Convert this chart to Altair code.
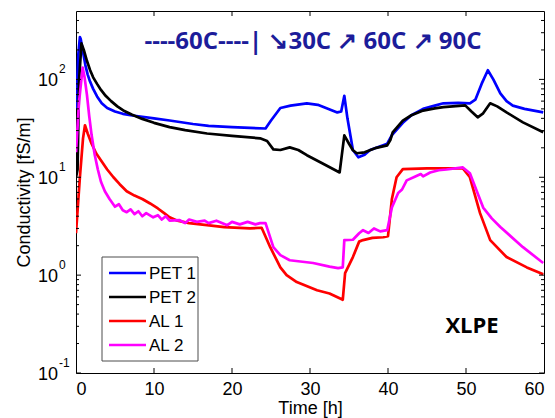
import altair as alt
import pandas as pd

# ---------------- data ----------------
pet1_t = [0, 0.3, 0.5, 0.6, 0.9, 1.2, 1.5, 1.8, 2.2, 2.7, 3.3, 4, 5, 6, 7, 8.5, 10,
          12, 15, 17, 20, 24.3, 25, 26.2, 27.5, 29.6, 31, 33.5, 34.0, 34.4, 34.8,
          35.5, 36.2, 37, 37.7, 38.5, 39.9, 40.5, 41.9, 43, 44.5, 46, 47.1, 49,
          50.5, 51.2, 52, 52.8, 53.5, 54.4, 55.2, 56, 57.5, 59.9]
pet1_v = [50, 180, 270, 260, 190, 140, 112, 95, 80, 67, 57, 51, 47, 44.5, 43, 41.5, 40,
          38, 35, 33.5, 32.5, 31.5, 38, 51, 54, 57, 55, 46, 47, 68, 40,
          19, 16, 17, 19, 20, 22, 27, 36, 43, 50, 54, 57, 57.5,
          57, 62, 90, 124, 100, 72, 60, 54, 50, 46]

pet2_t = [0, 0.2, 0.4, 0.7, 1.0, 1.4, 1.8, 2.2, 2.7, 3.2, 3.8, 4.5, 5.3, 6.2, 7.2,
          8.5, 10, 12, 14, 16.8, 20, 23.6, 24.5, 25.3, 26.2, 27.4, 28.5, 29.6, 31.5,
          33.8, 34.4, 35, 35.5, 36, 37, 38.5, 39.9, 40.3, 40.6, 41.9, 43, 44.5, 46,
          47.1, 49.9, 50.7, 51.5, 52.2, 53.1, 54, 55.2, 57.3, 59.9]
pet2_v = [10, 12, 100, 233, 200, 155, 125, 105, 90, 78, 68, 60, 53, 47.5, 43.5,
          39.5, 36, 32.5, 30.3, 28, 26.5, 25, 23.5, 19.3, 19, 20.2, 19, 16.8, 14,
          11.2, 26.8, 22, 18.9, 17.6, 18, 20, 21.2, 24, 28.8, 38, 43, 48, 50.5,
          52, 54.3, 47, 41, 45, 57, 53, 46, 36.4, 28.8]

al1_t = [0, 0.5, 0.9, 1.15, 1.5, 2, 2.6, 3.3, 4, 4.8, 5.6, 6.5, 7.5, 8.5, 9.5, 10.5,
         11.3, 12, 13, 14.5, 16.8, 19, 22.3, 23.8, 24.9, 26.2, 27, 28.3, 30.9, 32.5,
         33.8, 34.2, 34.5, 35.5, 36.3, 36.8, 38, 39.4, 40, 40.5, 41.1, 41.9, 45,
         49.6, 50.5, 51.8, 53.1, 55.2, 57.8, 59.9]
al1_v = [2.68, 10, 25, 34, 28, 22, 17.5, 14.5, 12, 10, 8.5, 7.2, 6.5, 6, 5.4, 4.8,
         4.3, 3.9, 3.6, 3.4, 3.24, 3.1, 3.0, 3.05, 1.93, 1.2, 1.0, 0.85, 0.70, 0.65,
         0.58, 0.56, 1.05, 1.53, 2.2, 2.28, 2.4, 2.44, 2.5, 6, 10, 12.1, 12.3,
         12.3, 10, 4.3, 2.28, 1.53, 1.2, 1.02]

al2_t = [0, 0.4, 0.85, 1.1, 1.4, 1.7, 2.0, 2.4, 2.8, 3.2, 3.7, 4.3, 5, 5.5, 6, 6.5,
         7, 7.5, 8, 8.5, 9, 9.9, 10.5, 11, 11.5, 12, 13.3, 14, 14.5, 15.5, 16.5, 17,
         18, 19.4, 20, 21, 22, 23, 23.6, 24.3, 25.3, 26.2, 27.4, 30.4, 32.5, 33.6,
         34.2, 34.4, 35.5, 36.3, 36.8, 37.5, 38.2, 39, 39.9, 40.5, 41.3, 41.8, 42.4,
         43.5, 44.2, 44.5, 45.4, 46.5, 47.5, 49.6, 50.5, 51.3, 52.2, 53.3, 54.4,
         57.3, 59.9]
al2_v = [18, 60, 132, 105, 70, 42, 27, 17, 12, 9, 7.2, 6, 5.0, 5.3, 4.6, 4.4,
         4.7, 4.2, 4.5, 4.0, 4.3, 3.9, 4.1, 3.7, 4.0, 3.6, 3.64, 3.4, 3.7, 3.5, 3.6, 3.4,
         3.6, 3.24, 3.5, 3.3, 3.5, 3.3, 3.4, 3.4, 1.93, 1.6, 1.42, 1.33, 1.22, 1.18,
         1.2, 2.28, 2.3, 2.68, 2.88, 2.7, 3.0, 2.8, 2.88, 4.9, 6.9, 7.5, 9.3,
         10.2, 10.8, 10.2, 11.2, 11.8, 12.0, 12.6, 11, 7.5, 4.9, 3.8, 3.1,
         1.93, 1.33]

series_names = ["PET 1", "PET 2", "AL 1", "AL 2"]
series_colors = ["#0000ff", "#000000", "#ff0000", "#ff00ff"]
series_t = [pet1_t, pet2_t, al1_t, al2_t]
series_v = [pet1_v, pet2_v, al1_v, al2_v]

x_ticks = [0, 10, 20, 30, 40, 50, 60]
y_major = [0.1, 1, 10, 100]
y_exp = ["-1", "0", "1", "2"]
y_minor = [m * d for d in [0.1, 1, 10] for m in range(2, 10)] + [200, 300, 400]

annotation = "----60C----| \u219830C \u2197 60C \u2197 90C"
material = "XLPE"

# ---------------- chart ----------------
W, H = 468, 362
FONT = "Liberation Sans"
xs = alt.Scale(domain=[0, 60], nice=False, zero=False)
ys = alt.Scale(type="log", domain=[0.1, 500], nice=False)

XAX = alt.Axis(values=x_ticks, ticks=False, domain=False, grid=False,
               labelFont=FONT, labelFontSize=18, labelColor="black",
               labelPadding=7, title="Time [h]", titleFont=FONT,
               titleFontSize=18, titleFontWeight="normal", titleColor="black",
               titleY=35, titleBaseline="middle")
YAX = alt.Axis(values=y_major, labels=False, ticks=False, domain=False, grid=False,
               title="Conductivity [fS/m]", titleFont=FONT, titleFontSize=18,
               titleFontWeight="normal", titleColor="black",
               titleX=-52, titleY=H / 2, titleAlign="center",
               titleBaseline="middle", titleAngle=270)


def X(field):
    return alt.X(field, scale=xs, axis=XAX)


def Y(field):
    return alt.Y(field, scale=ys, axis=YAX)


layers = []
for name, col, t, v in zip(series_names, series_colors, series_t, series_v):
    df = pd.DataFrame({"t": t, "v": v})
    layers.append(
        alt.Chart(df).mark_line(color=col, strokeWidth=2.7, clip=True,
                                strokeJoin="round").encode(x=X("t:Q"), y=Y("v:Q"))
    )

# ticks (inside, on all four sides)
xt = pd.DataFrame({"t": x_ticks[1:-1]})
for y0, y1 in [(H, H - 5), (0, 5)]:
    layers.append(alt.Chart(xt).mark_rule(color="black", strokeWidth=1).encode(
        x=X("t:Q"), y=alt.value(y0), y2=alt.value(y1)))
ymaj = pd.DataFrame({"v": y_major, "base": ["10"] * 4, "e": y_exp})
ymin = pd.DataFrame({"v": y_minor})
for d, ln in [(ymaj, 5), (ymin, 3)]:
    for x0, x1 in [(0, ln), (W, W - ln)]:
        layers.append(alt.Chart(d).mark_rule(color="black", strokeWidth=1).encode(
            y=Y("v:Q"), x=alt.value(x0), x2=alt.value(x1)))

# y tick labels 10^k
layers.append(alt.Chart(ymaj).mark_text(align="right", baseline="middle", font=FONT,
                                         fontSize=18, dy=1.5, color="black").encode(
    y=Y("v:Q"), x=alt.value(-18), text="base:N"))
layers.append(alt.Chart(ymaj).mark_text(align="left", baseline="middle", font=FONT,
                                         fontSize=12, dy=-10, color="black").encode(
    y=Y("v:Q"), x=alt.value(-17), text="e:N"))

# annotation texts
one = pd.DataFrame({"a": [annotation], "m": [material]})
layers.append(alt.Chart(one).mark_text(font="Open Sans", fontWeight="bold", fontSize=24,
                                        color="#1c1c9a", align="center", baseline="middle").encode(
    x=alt.value(237), y=alt.value(31), text="a:N"))
layers.append(alt.Chart(one).mark_text(font="Open Sans", fontWeight="bold", fontSize=22,
                                        color="black", align="center", baseline="middle").encode(
    x=alt.value(396), y=alt.value(315), text="m:N"))

# legend box
layers.append(alt.Chart(one).mark_rect(fill="white", stroke="#4d4d4d", strokeWidth=1).encode(
    x=alt.value(26), x2=alt.value(122), y=alt.value(246), y2=alt.value(350)))
for k, (name, col) in enumerate(zip(series_names, series_colors)):
    yy = 262 + 24 * k
    ld = pd.DataFrame({"n": [name]})
    layers.append(alt.Chart(ld).mark_rule(color=col, strokeWidth=2.7).encode(
        x=alt.value(33), x2=alt.value(70), y=alt.value(yy)))
    layers.append(alt.Chart(ld).mark_text(font=FONT, fontSize=17, color="black",
                                           align="left", baseline="middle").encode(
        x=alt.value(73), y=alt.value(yy + 1), text="n:N"))

chart = alt.layer(*layers).properties(
    width=W, height=H,
    autosize=alt.AutoSizeParams(type="none"),
    padding={"left": 68, "top": 3, "right": 3, "bottom": 45},
    background="white",
).configure_view(stroke="black", strokeWidth=1)

chart.save("out.html", embed_options={"renderer": "svg", "actions": False})
